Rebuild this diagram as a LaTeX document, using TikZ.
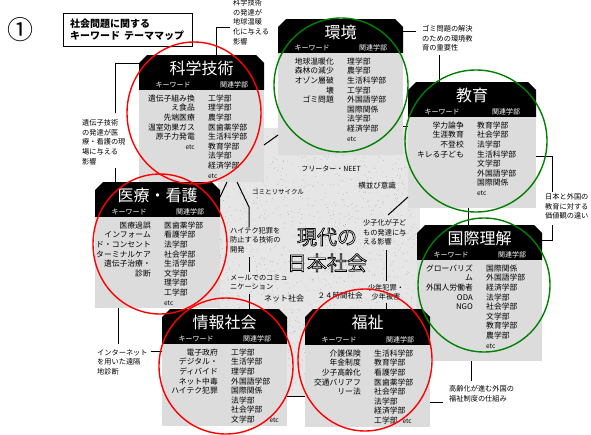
\documentclass[tikz,border=0pt]{standalone}
\usepackage{fontspec}
\setmainfont{Noto Sans CJK JP}
\usetikzlibrary{calc}
\definecolor{bodygray}{RGB}{220,220,220}
\definecolor{bggray}{RGB}{230,230,230}
\definecolor{ellred}{RGB}{255,0,0}
\definecolor{ellgreen}{RGB}{0,128,0}
\newcommand\etcs{{\fontsize{6.5}{9.6}\selectfont etc}}
\newcommand\outlinetext[1]{\textcolor{white}{\special{pdf:code q 0 G 2 Tr 0.7 w}#1\special{pdf:code Q}}}
\tikzset{
 conn/.style={draw=black, line width=1pt},
 bodybox/.style={rectangle, fill=bodygray, inner sep=0, outer sep=0, anchor=north west},
 headbox/.style={rectangle, inner sep=0, outer sep=0, anchor=north west},
 ttl/.style={text=white, font=\fontsize{16}{18}\selectfont, inner sep=0},
 sub/.style={text=white, font=\fontsize{7}{8}\selectfont, inner sep=0},
 kw/.style={font=\fontsize{7.8}{9.6}\selectfont, align=right, anchor=north east, inner sep=0},
 dep/.style={font=\fontsize{7.8}{9.6}\selectfont, align=left, anchor=north west, inner sep=0},
 ann/.style={font=\fontsize{7.2}{9.8}\selectfont, align=left, anchor=north west, inner sep=0},
 ctr/.style={font=\fontsize{7.5}{9}\selectfont, inner sep=0},
 big/.style={font=\fontsize{20}{26}\selectfont, inner sep=0, align=center},
 ell/.style={line width=1.4pt},
}
\newcommand\mkbox[9]{%
 \node[headbox, minimum width={#4-#2}, minimum height={#5-#3}] (#1H) at (#2,#3) {};
 \fill[black] ([yshift=-8pt]#1H.north west) -- ([xshift=8pt]#1H.north west) -- ([xshift=-8pt]#1H.north east) -- ([yshift=-8pt]#1H.north east) -- (#1H.south east) -- (#1H.south west) -- cycle;
 \node[bodybox, minimum width={#4-#2}, minimum height={#6-#5}] (#1B) at (#2,#5) {};
 \node[ttl] (#1T) at ([yshift=-13pt]#1H.north) {#7};
 \node[sub] (#1K) at ([xshift=34pt,yshift=5pt]#1H.south west) {キーワード};
 \node[sub] (#1G) at ([xshift=-30pt,yshift=5pt]#1H.south east) {関連学部};
 \node[kw] (#1W) at ([xshift=56pt,yshift=-4.5pt]#1B.north west) {#8};
 \node[dep] (#1D) at ([xshift=69pt,yshift=-4.5pt]#1B.north west) {#9};
}
\begin{document}
\begin{tikzpicture}[x=1pt,y=-1pt]
\useasboundingbox (0,0) rectangle (591,434);
\fill[white] (0,0) rectangle (591,434);
% speckled central background
\fill[bggray] (218,128) rectangle (420,396);
\pgfmathsetseed{3}
\foreach \i in {1,...,1600} { \fill[gray!65] ({218+202*rnd},{128+268*rnd}) circle (0.4pt); }

% number and title
\node[font=\fontsize{26}{28}\selectfont, inner sep=0] (num) at (20,30) {①};
\node[draw, line width=0.8pt, minimum width=129pt, minimum height=33pt, anchor=north west, inner sep=0] (titlebox) at (63,13) {};
\node[anchor=north west, font=\bfseries\fontsize{10}{12}\selectfont, align=left, inner sep=0] (titletext) at (70,19) {社会問題に関する\\キーワード\hspace{4pt}テーママップ};

% boxes
\mkbox{kagaku}{139}{55}{264}{90}{182}{科学技術}
 {遺伝子組み換\\え食品\\先端医療\\温室効果ガス\\原子力発電\\\etcs}
 {工学部\\理学部\\農学部\\医歯薬学部\\生活科学部\\教育学部\\法学部\\経済学部\\\etcs}
\mkbox{kankyo}{278}{19}{403}{53}{155}{環境}
 {地球温暖化\\森林の減少\\オゾン層破\\壊\\ゴミ問題}
 {理学部\\農学部\\生活科学部\\工学部\\外国語学部\\国際関係\\法学部\\経済学部\\\etcs}
\mkbox{kyouiku}{408}{82}{536}{117}{208}{教育}
 {学力論争\\生涯教育\\不登校\\キレる子ども}
 {教育学部\\社会学部\\法学部\\生活科学部\\文学部\\外国語学部\\国際関係\\\etcs}
\mkbox{kokusai}{417}{225}{542}{260}{361}{国際理解}
 {グローバリズ\\ム\\外国人労働者\\ODA\\NGO}
 {国際関係\\外国語学部\\経済学部\\法学部\\社会学部\\文学部\\教育学部\\農学部\\\etcs}
\mkbox{iryou}{95}{182}{220}{217}{308}{医療・看護}
 {医療過誤\\インフォーム\\ド・コンセント\\ターミナルケア\\遺伝子治療・\\診断}
 {医歯薬学部\\看護学部\\法学部\\社会学部\\生活学部\\文学部\\理学部\\工学部\\\etcs}
\mkbox{jouhou}{162}{309}{287}{344}{426}{情報社会}
 {電子政府\\デジタル・\\ディバイド\\ネット中毒\\ハイテク犯罪}
 {工学部\\生活学部\\理学部\\外国語学部\\国際関係\\法学部\\社会学部\\文学部\hspace{15pt}\etcs}
\mkbox{fukushi}{305}{309}{430}{345}{427}{福祉}
 {介護保険\\年金制度\\少子高齢化\\交通バリアフ\\リー法}
 {生活科学部\\教育学部\\看護学部\\医歯薬学部\\社会学部\\法学部\\経済学部\\工学部\hspace{5pt}\etcs}

% annotation texts
\node[ann] (ann1) at (233,-1) {科学技術\\の発達が\\地球温暖\\化に与える\\影響};
\node[ann] (ann2) at (82,119) {遺伝子技術\\の発達が医\\療・看護の現\\場に与える\\影響};
\node[ann] (ann3) at (422,25) {ゴミ問題の解決\\のための環境教\\育の重要性};
\node[ann] (ann4) at (545,193) {日本と外国の\\教育に対する\\価値観の違い};
\node[ann] (ann5) at (449,385) {高齢化が進む外国の\\福祉制度の仕組み};
\node[ann] (ann6) at (97,349) {インターネット\\を用いた遠隔\\地診断};
\node[ann, font=\fontsize{7.2}{9.5}\selectfont] (hightech) at (230,227) {ハイテク犯罪を\\防止する技術の\\開発};
\node[ann, font=\fontsize{7.2}{9}\selectfont] (mail) at (230,275) {メールでのコミュ\\ニケーション};
\node[ann] (shoushi) at (363,219) {少子化が子ど\\もの発達に与\\える影響};
\node[ann, anchor=center, align=center, font=\fontsize{7.2}{9}\selectfont] (shounen) at (386,292) {少年犯罪・\\少年被害};

% centre words
\node[ctr, font=\fontsize{7}{9}\selectfont] (freeter) at (331,169) {フリーター・NEET};
\node[ctr] (yoko) at (377,186) {横並び意識};
\node[ctr, font=\fontsize{6.5}{9}\selectfont] (gomi) at (278,192) {ゴミとリサイクル};
\node[ctr, font=\fontsize{8}{9}\selectfont] (net) at (284,298) {ネット社会};
\node[ctr] (h24) at (340,296) {２４時間社会};

% outlined title
\node[big] (gendai) at (327,250) {\outlinetext{現代の}\\\outlinetext{日本社会}};

% free ends of connectors
\coordinate (a1) at (230,27);
\coordinate (a2) at (115,113);
\coordinate (a2b) at (115,168);
\coordinate (a3) at (416,31);
\coordinate (a3b) at (439,55);
\coordinate (a4) at (552,192);
\coordinate (a4b) at (552,225);
\coordinate (a6) at (471,381);
\coordinate (a6b) at (443,402);
\coordinate (a7) at (118,344);
\coordinate (a7b) at (151,351);
\coordinate (a10) at (249,207);
\coordinate (a13) at (388,215);

% connectors
\draw[conn] ([xshift=77pt]kagakuH.north west) |- (a1);
\draw[conn] ([yshift=-8pt]kagakuH.north west) -| (a2);
\draw[conn] (a2b) -- (a2b |- iryouH.north);
\draw[conn] ([yshift=5pt]kankyoH.east) -- (a3);
\draw[conn] (a3b) -- (a3b |- kyouikuH.north);
\draw[conn] (kyouikuB.east |- 0,156) -| (a4);
\draw[conn] (a4b) |- (kokusaiH.east |- 0,240);
\draw[conn] (kyouikuB.south -| 468,0) -- (kokusaiH.north -| 468,0);
\draw[conn] (kokusaiB.south -| a6) -- (a6);
\draw[conn] (a6b) -- (fukushiB.east |- a6b);
\draw[conn] (iryouB.south -| a7) -- (a7);
\draw[conn] (a7b) -- (jouhouB.west |- a7b);
\draw[conn] (jouhouB.east |- 0,396) -- (fukushiB.west |- 0,396);
\draw[conn] (kankyoB.east |- 0,126) -- (kyouikuB.west |- 0,126);
\draw[conn] (kagakuB.south -| 237,0) -- (a10) -- (a10 |- hightech.north);
\draw[conn] ([yshift=-4pt]hightech.south -| a10) -- ([yshift=3pt]mail.north -| a10);
\draw[conn] ([yshift=-4pt]mail.south -| a10) -- (jouhouH.north -| a10);
\draw[conn] (kagakuB.south -| 227,0) -- (iryouH.east |- 0,197);
\draw[conn] (kagakuB.east |- 0,145) -- (kankyoB.west |- 0,135);
\draw[conn] (kyouikuB.west |- 0,197) -- (a13);
\draw[conn] ([yshift=-4pt]shoushi.south -| shounen) -- ([yshift=3pt]shounen.north);
\draw[conn] ([yshift=-3pt]shounen.south) -- (fukushiH.north -| shounen);

% ellipses
\draw[ell, ellred] (194,113) ellipse [x radius=67pt, y radius=71pt];
\draw[ell, ellgreen] (341,85) ellipse [x radius=67pt, y radius=67pt];
\draw[ell, ellgreen] (476,141) ellipse [x radius=71pt, y radius=71pt];
\draw[ell, ellgreen] (484,285) ellipse [x radius=66pt, y radius=67pt];
\draw[ell, ellred] (160,244) ellipse [x radius=67pt, y radius=70pt];
\draw[ell, ellred] (226,366) ellipse [x radius=67pt, y radius=68pt];
\draw[ell, ellred] (365,360) ellipse [x radius=67pt, y radius=71pt];
\end{tikzpicture}
\end{document}
